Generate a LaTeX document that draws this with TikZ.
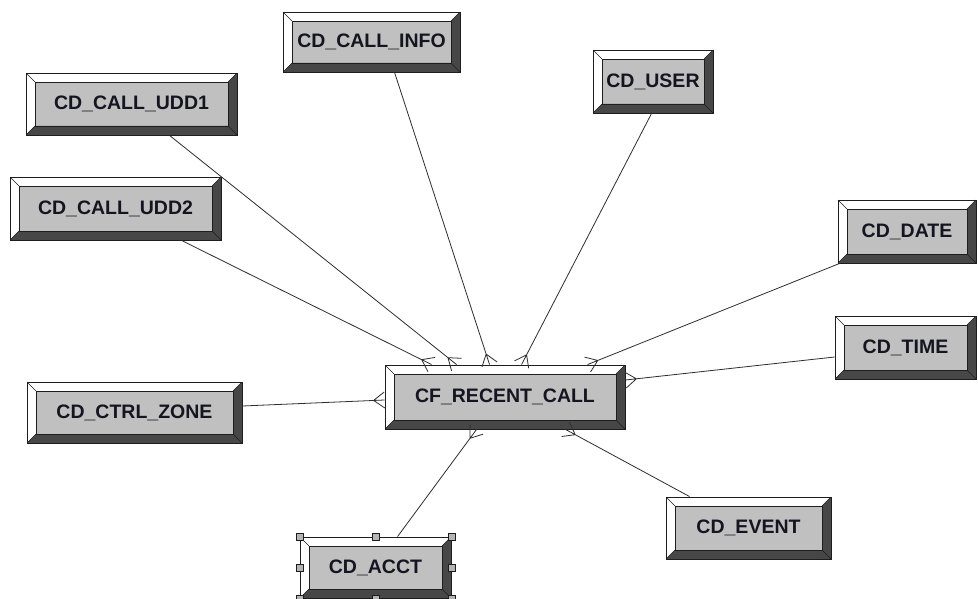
\documentclass[tikz,border=0pt]{standalone}
\usepackage{fontspec}
\setmainfont{Liberation Sans}
\usetikzlibrary{calc}
\definecolor{face}{HTML}{C0C0C0}
\definecolor{darkbev}{HTML}{474747}
\definecolor{edge}{HTML}{1E1E1E}
\definecolor{wirec}{HTML}{2E2E2E}
\definecolor{txt}{HTML}{15151F}
\definecolor{hfill}{HTML}{B4B4B4}
\tikzset{
  ent/.style={rectangle, inner sep=0pt, fill=face, draw=edge, line width=0.9pt,
    text=txt, font=\bfseries\fontsize{19.5pt}{24pt}\selectfont,
    path picture={
      \path (path picture bounding box.north west) coordinate (bA)
            (path picture bounding box.north east) coordinate (bB)
            (path picture bounding box.south east) coordinate (bC)
            (path picture bounding box.south west) coordinate (bD);
      \fill[white] (bA) -- (bB) -- ([shift={(-9pt,-9pt)}]bB) -- ([shift={(9pt,-9pt)}]bA)
            -- ([shift={(9pt,9pt)}]bD) -- (bD) -- cycle;
      \fill[darkbev] (bC) -- (bB) -- ([shift={(-9pt,-9pt)}]bB) -- ([shift={(-9pt,9pt)}]bC)
            -- ([shift={(9pt,9pt)}]bD) -- (bD) -- cycle;
      \draw[edge, line width=0.6pt] ([shift={(9pt,-9pt)}]bA) rectangle ([shift={(-9pt,9pt)}]bC);
      \draw[edge, line width=0.6pt] (bA) -- ++(9pt,-9pt) (bB) -- ++(-9pt,-9pt)
            (bC) -- ++(-9pt,9pt) (bD) -- ++(9pt,9pt);
    }},
  wire/.style={draw=wirec, line width=0.8pt},
  handle/.style={rectangle, draw=edge, fill=hfill, line width=0.6pt, minimum size=7pt, inner sep=0pt}
}
\newcommand\entbox[6]{\node[ent, minimum width={(#4-#2)*1pt}, minimum height={(#5-#3)*1pt}] (#1) at ({(#2+#4)/2},{(#3+#5)/2}) {#6};}
\newcommand\crow[2]{\draw[wire] (#1) -- (#2) ($(#2)!11pt!(#1)$) -- ($(#2)!8pt!90:(#1)$) ($(#2)!11pt!(#1)$) -- ($(#2)!8pt!-90:(#1)$);}
\begin{document}
\begin{tikzpicture}[x=1pt,y=-1pt]
\useasboundingbox (0,0) rectangle (978,599);
\fill[white] (0,0) rectangle (978,599);
\entbox{udd1}{26}{73}{237}{135}{CD\_CALL\_UDD1}
\entbox{udd2}{10}{177}{221}{240}{CD\_CALL\_UDD2}
\entbox{info}{283}{12}{460}{72}{CD\_CALL\_INFO}
\entbox{user}{593}{50}{713}{113}{CD\_USER}
\entbox{date}{838}{200}{976}{263}{CD\_DATE}
\entbox{time}{835}{316}{976}{379}{CD\_TIME}
\entbox{event}{666}{497}{831}{559}{CD\_EVENT}
\entbox{cf}{385}{365}{625}{429}{CF\_RECENT\_CALL}
\entbox{ctrl}{27}{382}{242}{443}{CD\_CTRL\_ZONE}
\entbox{acct}{300}{537}{451}{598}{CD\_ACCT}
% connector ends
\coordinate (s1) at ([xshift=144pt]udd1.south west);
\coordinate (t1) at ([xshift=72pt]cf.north west);
\coordinate (s2) at ([xshift=172pt]udd2.south west);
\coordinate (t2) at ([xshift=47pt]cf.north west);
\coordinate (s3) at ([xshift=112pt]info.south west);
\coordinate (t3) at ([xshift=105pt]cf.north west);
\coordinate (s4) at ([xshift=59pt]user.south west);
\coordinate (t4) at ([xshift=137pt]cf.north west);
\coordinate (s5) at ([xshift=2pt]date.south west);
\coordinate (t5) at ([xshift=203pt]cf.north west);
\coordinate (s6) at ([yshift=-9.5pt]time.west);
\coordinate (t6) at ([yshift=17pt]cf.east);
\coordinate (s7) at ([yshift=6.5pt]ctrl.east);
\coordinate (t7) at ([yshift=-3pt]cf.west);
\coordinate (s8) at ([xshift=98pt]acct.north west);
\coordinate (t8) at ([xshift=92pt]cf.south west);
\coordinate (s9) at ([xshift=24pt]event.north west);
\coordinate (t9) at ([xshift=181pt]cf.south west);
\crow{s1}{t1}
\crow{s2}{t2}
\crow{s3}{t3}
\crow{s4}{t4}
\crow{s5}{t5}
\crow{s6}{t6}
\crow{s7}{t7}
\crow{s8}{t8}
\crow{s9}{t9}
% selection handles
\node[handle] (h1) at (acct.north west) {};
\node[handle] (h2) at (acct.north) {};
\node[handle] (h3) at (acct.north east) {};
\node[handle] (h4) at (acct.west) {};
\node[handle] (h5) at (acct.east) {};
\node[handle] (h6) at (acct.south west) {};
\node[handle] (h7) at (acct.south) {};
\node[handle] (h8) at (acct.south east) {};
\end{tikzpicture}
\end{document}
